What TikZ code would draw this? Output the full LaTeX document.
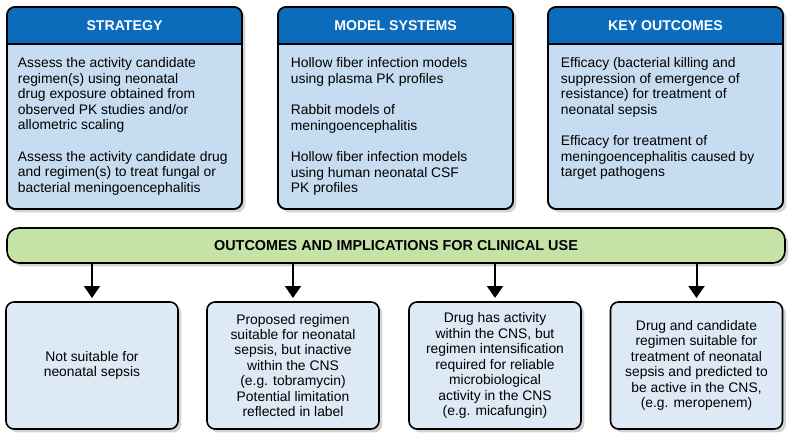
\documentclass[tikz,border=0pt]{standalone}
\usepackage{fontspec}
\setmainfont{Liberation Sans}
\usetikzlibrary{arrows.meta,shadows,positioning}

\definecolor{headblue}{RGB}{11,108,188}
\definecolor{panelblue}{RGB}{198,221,241}
\definecolor{resultblue}{RGB}{221,233,245}
\definecolor{bargreen}{RGB}{198,227,167}

\tikzset{
	boxline/.style={draw=black, line width=1.2pt, rounded corners=6pt},
	softshadow/.style={drop shadow={shadow xshift=2.5pt, shadow yshift=-2.5pt, opacity=0.35}},
	panel/.style={boxline, fill=panelblue, outer sep=0pt, minimum width=176.25pt, minimum height=151.5pt, softshadow},
	headtext/.style={text=white, font=\fontsize{10.6}{12}\selectfont\bfseries},
	bodytext/.style={anchor=north west, inner sep=0pt, align=left, font=\fontsize{10.4}{11.6}\selectfont},
	resultbox/.style={boxline, fill=resultblue, outer sep=0pt, minimum width=129pt, minimum height=95.25pt, align=center, font=\fontsize{10.4}{11.6}\selectfont, softshadow},
	implbar/.style={draw=black, line width=1.2pt, rounded corners=9pt, fill=bargreen, outer sep=0pt, minimum width=583.5pt, minimum height=26.25pt, font=\fontsize{10.8}{12}\selectfont\bfseries, softshadow},
	flow/.style={line width=1.5pt, -{Triangle[width=12pt,length=9pt]}},
}

\begin{document}
\begin{tikzpicture}[x=0.75pt,y=-0.75pt]
	\useasboundingbox (0,0) rectangle (800,447);
	% top panels
	\node[panel] (strategy) at (124.5,108) {};
	\node[panel] (models) at (395.5,108) {};
	\node[panel] (outcomes) at (665.5,108) {};
	\foreach \name/\title in {strategy/STRATEGY, models/MODEL SYSTEMS, outcomes/KEY OUTCOMES}{
		\begin{scope}
			\clip[rounded corners=6pt] (\name.north west) rectangle (\name.south east);
			\fill[headblue] (\name.north west) rectangle ([yshift=-27.75pt]\name.north east);
		\end{scope}
		\draw[line width=1.2pt] ([yshift=-27.75pt]\name.north west) -- ([yshift=-27.75pt]\name.north east);
		\draw[boxline] (\name.north west) rectangle (\name.south east);
		\node[headtext] (\name-title) at ([yshift=-13.9pt]\name.north) {\title};
	}
	\node[bodytext] (strategy-text) at ([xshift=8pt,yshift=-38pt]strategy.north west)
		{Assess the activity candidate\\ regimen(s) using neonatal\\ drug exposure obtained from\\ observed PK studies and/or\\ allometric scaling\\[11.9pt]
		 Assess the activity candidate drug\\ and regimen(s) to treat fungal or\\ bacterial meningoencephalitis};
	\node[bodytext] (models-text) at ([xshift=9.5pt,yshift=-38pt]models.north west)
		{Hollow fiber infection models\\ using plasma PK profiles\\[11.9pt]
		 Rabbit models of\\ meningoencephalitis\\[11.9pt]
		 Hollow fiber infection models\\ using human neonatal CSF\\ PK profiles};
	\node[bodytext] (outcomes-text) at ([xshift=9.5pt,yshift=-38pt]outcomes.north west)
		{Efficacy (bacterial killing and\\ suppression of emergence of\\ resistance) for treatment of\\ neonatal sepsis\\[11.9pt]
		 Efficacy for treatment of\\ meningoencephalitis caused by\\ target pathogens};

	% implications bar
	\node[implbar] (implications) at (396,245.5) {OUTCOMES AND IMPLICATIONS FOR CLINICAL USE};

	% results
	\node[resultbox] (unsuitable) at (92,365.5) {Not suitable for\\ neonatal sepsis};
	\node[resultbox] (peripheral) at (293,365.5) {Proposed regimen\\ suitable for neonatal\\ sepsis, but inactive\\ within the CNS\\ (e.g. tobramycin)\\ Potential limitation\\ reflected in label};
	\node[resultbox] (intensify) at (495,365.5) {Drug has activity\\ within the CNS, but\\ regimen intensification\\ required for reliable\\ microbiological\\ activity in the CNS\\ (e.g. micafungin)};
	\node[resultbox] (suitable) at (696.5,365.5) {Drug and candidate\\ regimen suitable for\\ treatment of neonatal\\ sepsis and predicted to\\ be active in the CNS,\\ (e.g. meropenem)};

	\foreach \res in {unsuitable,peripheral,intensify,suitable}
		\draw[flow] (implications.south -| \res.north) -- ([yshift=3pt]\res.north);
\end{tikzpicture}
\end{document}
